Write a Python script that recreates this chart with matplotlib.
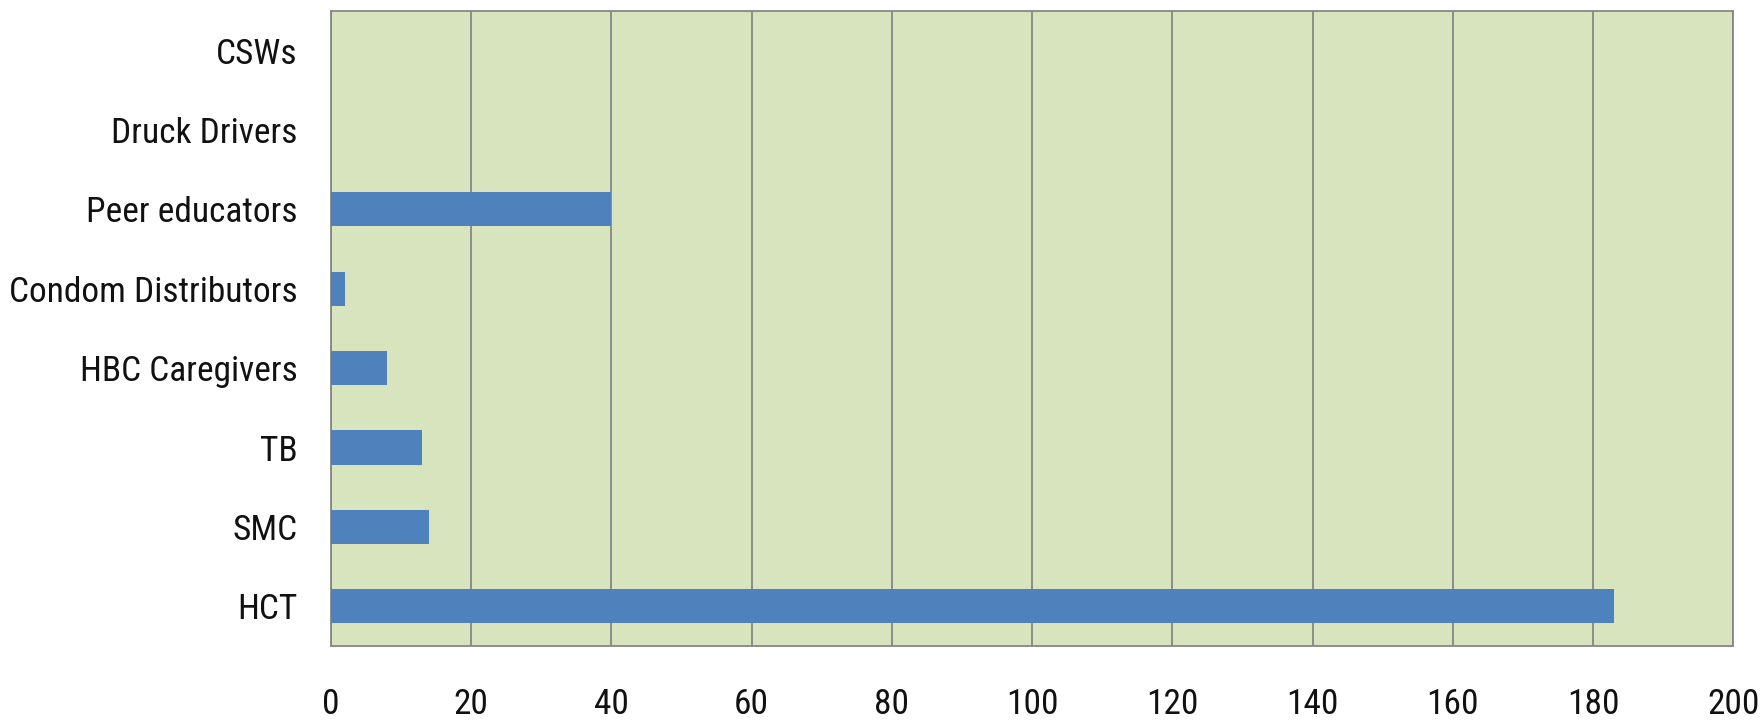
import matplotlib
matplotlib.use("Agg")
import matplotlib.pyplot as plt

categories = ["HCT", "SMC", "TB", "HBC Caregivers", "Condom Distributors",
              "Peer educators", "Druck Drivers", "CSWs"]
values = [183, 14, 13, 8, 2, 40, 0, 0]
xticks = [0, 20, 40, 60, 80, 100, 120, 140, 160, 180, 200]

plt.rcParams["font.family"] = ["Liberation Sans Narrow", "Roboto Condensed", "Roboto", "DejaVu Sans"]

fig = plt.figure(figsize=(17.65, 7.25), dpi=100)
ax = fig.add_axes([0.1875, 0.109, 0.7945, 0.876])
ax.set_facecolor("#d7e4bd")

ax.barh(range(len(categories)), values, height=0.43, color="#4f81bd", zorder=3)

ax.set_xlim(0, 200)
ax.set_ylim(-0.5, len(categories) - 0.5)
ax.set_xticks(xticks)
ax.set_yticks(range(len(categories)))
ax.set_yticklabels(categories)
ax.xaxis.grid(True, color="#868686", linewidth=1.3, zorder=1)
ax.tick_params(axis="both", length=0, labelsize=25.5, colors="#111111")
ax.tick_params(axis="x", pad=30)
ax.tick_params(axis="y", pad=24)
for s in ax.spines.values():
    s.set_color("#868686")
    s.set_linewidth(1.3)

fig.savefig("out.png", dpi=100, facecolor="white")
